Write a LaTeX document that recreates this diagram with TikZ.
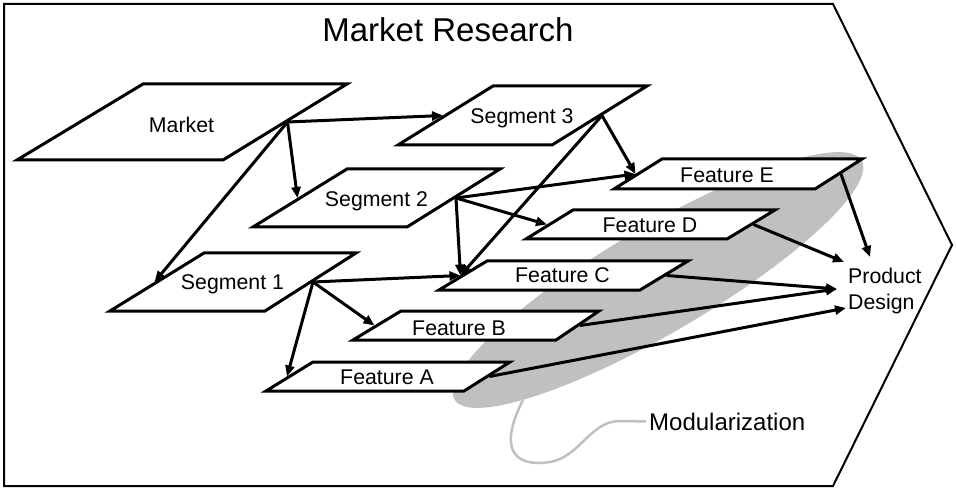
\documentclass[tikz,border=0pt]{standalone}
\usepackage{fontspec}
\setmainfont{Liberation Sans}
\usetikzlibrary{arrows.meta,shapes.geometric}
\definecolor{modgray}{RGB}{192,192,192}
\tikzset{
  parashape/.style={draw=black, fill=white, line width=3pt, line join=miter},
  lbl/.style={inner sep=0pt, anchor=base, font=\fontsize{21.3}{25.6}\selectfont},
  arr/.style={line width=3pt, -{Triangle[length=11pt,width=9pt]}},
  framebox/.style={draw=black, fill=white, line width=2pt, line join=miter},
}
% #1 name, #2 top-left x, #3 top-right x, #4 bottom-left x, #5 bottom-right x, #6 top y, #7 bottom y
\newcommand\parashp[7]{%
  \draw[parashape] (#2,#6) -- (#3,#6) -- (#5,#7) -- (#4,#7) -- cycle;
  \coordinate (#1-L) at ({(#2+#4)/2-2.5},{(#6+#7)/2});
  \coordinate (#1-R) at ({(#3+#5)/2+2.5},{(#6+#7)/2});
}
\begin{document}
\begin{tikzpicture}[x=1pt,y=-1pt]
\useasboundingbox (0,0) rectangle (956,489);
% outer frame
\draw[framebox] (4,4) -- (833,4) -- (952,245) -- (833,486) -- (4,486) -- cycle;
\node[inner sep=0pt, anchor=base, font=\fontsize{33}{40}\selectfont] (title) at (448,42) {Market Research};

% modularization ellipse
\node[ellipse, fill=modgray, minimum width=472pt, minimum height=106pt, inner sep=0pt, rotate=30.4] (modell) at (658,280) {};
\coordinate (cstart) at (523,400);
\node[inner sep=3pt, anchor=base west, font=\fontsize{24}{28}\selectfont] (modlbl) at (646,430) {Modularization};
\draw[modgray, line width=2.5pt] (cstart) .. controls (500,445) and (510,468) .. (550,462)
   .. controls (580,457) and (590,421) .. (620,421) -- (modlbl.west);

% parallelograms
\parashp{mk}{143}{347}{17}{223}{84}{160}
\parashp{s3}{493}{647}{398}{552}{86}{145}
\parashp{s2}{347}{500}{253}{407}{169}{227}
\parashp{s1}{204}{356}{110}{265}{253}{311}
\parashp{fe}{662}{862}{614}{815}{159}{189}
\parashp{fd}{573}{775}{526}{727}{210}{239}
\parashp{fc}{487}{688}{439}{640}{261}{290}
\parashp{fb}{401}{599}{353}{556}{311}{340}
\parashp{fa}{313}{510}{266}{464}{362}{391}

\node[lbl] (market) at (181.5,133) {Market};
\node[lbl] (seg3) at (522,124) {Segment 3};
\node[lbl] (seg2) at (376.5,207) {Segment 2};
\node[lbl] (seg1) at (232.5,290) {Segment 1};
\node[lbl] (feate) at (727,183) {Feature E};
\node[lbl] (featd) at (650,233) {Feature D};
\node[lbl] (featc) at (562.5,283) {Feature C};
\node[lbl] (featb) at (459,335.5) {Feature B};
\node[lbl] (feata) at (387,384) {Feature A};

\node[inner sep=0pt, anchor=west, align=left, font=\fontsize{21.3}{26.5}\selectfont] (pd) at (848,291) {Product\\Design};
\coordinate (pdE) at (870,257);
\coordinate (pdD) at (844,262);
\coordinate (pdC) at (837,289);
\coordinate (pdA) at (846,308);

% connectors
\draw[arr] (mk-R) -- (s3-L);
\draw[arr] (mk-R) -- (s2-L);
\draw[arr] (mk-R) -- (s1-L);
\draw[arr] (s3-R) -- (fe-L);
\draw[arr] (s3-R) -- (fc-L);
\draw[arr] (s2-R) -- (fe-L);
\draw[arr] (s2-R) -- (fd-L);
\draw[arr] (s2-R) -- (fc-L);
\draw[arr] (s1-R) -- (fc-L);
\draw[arr] (s1-R) -- (fb-L);
\draw[arr] (s1-R) -- (fa-L);
\draw[arr] (fe-R) -- (pdE);
\draw[arr] (fd-R) -- (pdD);
\draw[arr] (fc-R) -- (pdC);
\draw[arr] (fb-R) -- (pdC);
\draw[arr] (fa-R) -- (pdA);
\end{tikzpicture}
\end{document}
